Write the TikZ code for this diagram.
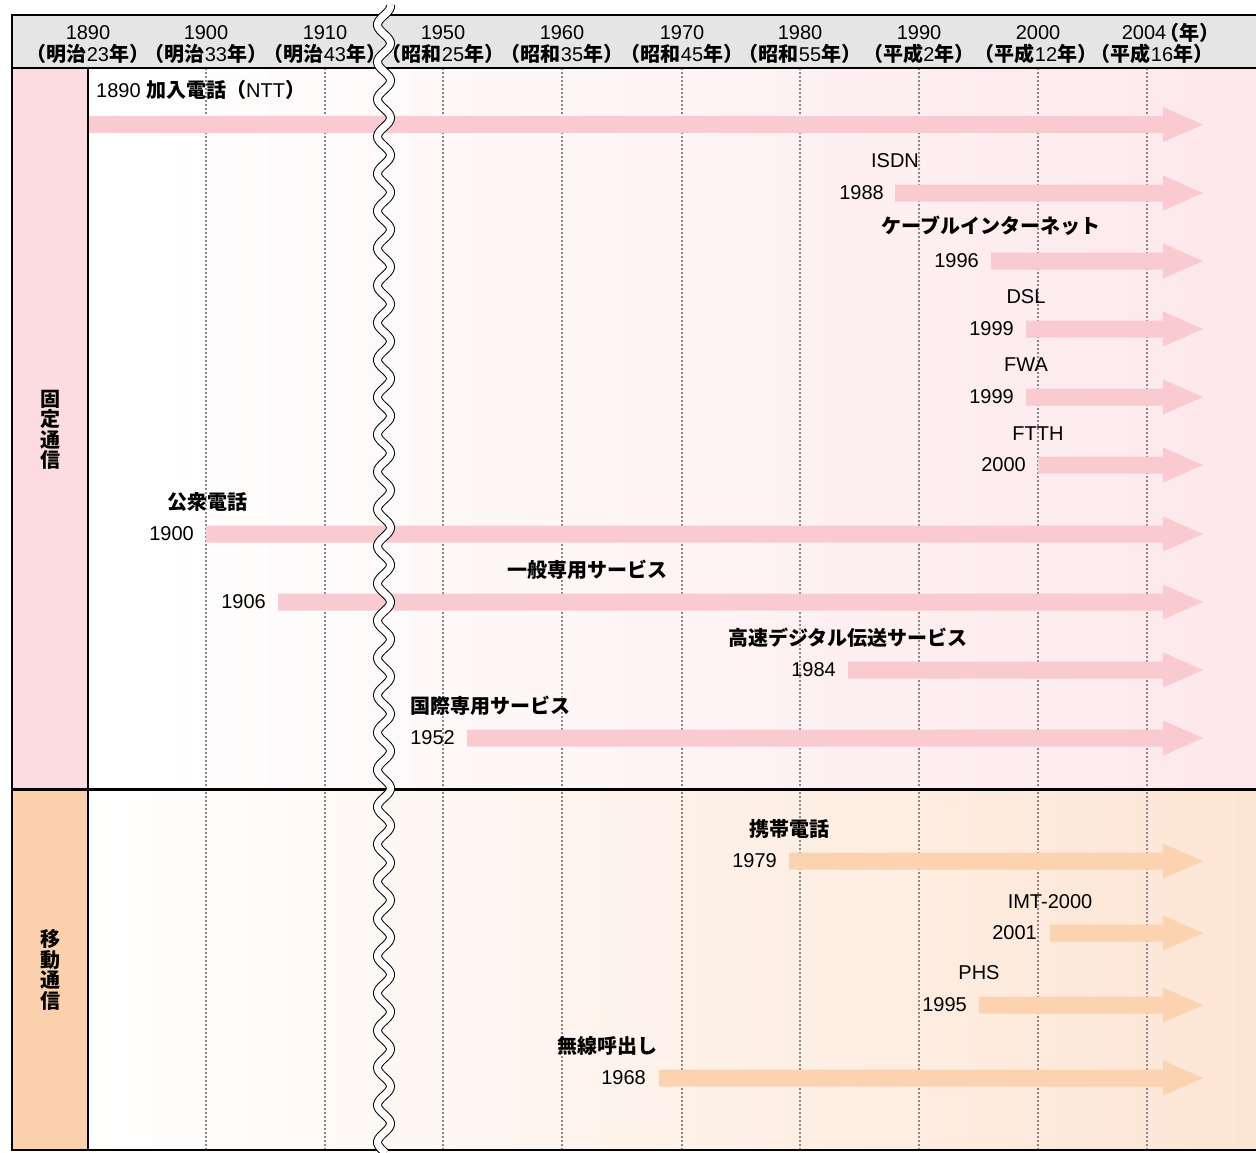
\documentclass[tikz,border=0pt]{standalone}
\usepackage{fontspec}
\setmainfont{Liberation Sans}
\newfontfamily\jpf{Noto Sans CJK JP}
\newcommand\JB[1]{{\jpf\bfseries #1}}
\definecolor{hdrgray}{RGB}{229,229,229}
\definecolor{fixcol}{RGB}{252,220,225}
\definecolor{mobcol}{RGB}{251,209,173}
\definecolor{fixbg}{RGB}{253,232,235}
\definecolor{mobbg}{RGB}{253,229,212}
\definecolor{fixarr}{RGB}{249,202,208}
\definecolor{mobarr}{RGB}{252,211,176}
\definecolor{gridgray}{RGB}{135,135,135}
\newcommand\tlarrow[3]{%
  \fill[#1] (#2,#3-8.5) -- (1163,#3-8.5) -- (1163,#3-17.5) -- (1203,#3)
    -- (1163,#3+17.5) -- (1163,#3+8.5) -- (#2,#3+8.5) -- cycle;}
\begin{document}
\begin{tikzpicture}[x=1pt,y=-1pt,
  lat/.style={font=\fontsize{20}{24}\selectfont, inner sep=0pt},
  jlab/.style={font=\jpf\bfseries\fontsize{20}{24}\selectfont, inner sep=0pt},
  yrlab/.style={lat, anchor=east},
  hdr/.style={font=\fontsize{20}{24}\selectfont, inner sep=0pt},
  vlab/.style={font=\jpf\bfseries\fontsize{20}{20.5}\selectfont, align=center, inner sep=0pt},
  gridline/.style={draw=gridgray, line width=1.8pt, dash pattern=on 1.8pt off 2.2pt},
  fixarrow/.style={fill=fixarr},
  mobarrow/.style={fill=mobarr},
  frameline/.style={draw=black},
]
\useasboundingbox (0,0) rectangle (1256,1153);
% backgrounds
\fill[hdrgray] (12,15) rectangle (1256,68);
\fill[fixcol] (12,68) rectangle (88,789);
\fill[mobcol] (12,789) rectangle (88,1150);
\shade[left color=white, right color=fixbg] (88,68) rectangle (1256,789);
\shade[left color=white, right color=mobbg] (88,789) rectangle (1256,1150);
% grid
\foreach \gx in {206,325,443,562,682,800,919,1038,1147}
  \draw[gridline] (\gx,68) -- (\gx,1150);
% arrows fixed
\tlarrow{fixarrow}{88}{124.5}
\tlarrow{fixarrow}{895}{193}
\tlarrow{fixarrow}{991}{261}
\tlarrow{fixarrow}{1026}{329}
\tlarrow{fixarrow}{1026}{397}
\tlarrow{fixarrow}{1038}{465}
\tlarrow{fixarrow}{206}{534}
\tlarrow{fixarrow}{278}{602}
\tlarrow{fixarrow}{848}{670}
\tlarrow{fixarrow}{467}{738}
% arrows mobile
\tlarrow{mobarrow}{789}{861}
\tlarrow{mobarrow}{1050}{933}
\tlarrow{mobarrow}{979}{1005}
\tlarrow{mobarrow}{659}{1078}
% frame
\draw[frameline, line width=1.5pt] (12,68) -- (1256,68);
\draw[frameline, line width=1.4pt] (88,68) -- (88,1150);
\draw[frameline, line width=3pt] (12,789) -- (1256,789);
\draw[frameline, line width=2.5pt] (1256,15) -- (12,15) -- (12,1150) -- (1256,1150);
% header
\foreach \gx/\yr/\era/\num [count=\i] in {88/1890/明治/23, 206/1900/明治/33, 325/1910/明治/43,
   443/1950/昭和/25, 562/1960/昭和/35, 682/1970/昭和/45, 800/1980/昭和/55,
   919/1990/平成/2, 1036/2000/平成/12, 1152/2004/平成/16} {
  \node[hdr] (era\i) at (\gx,54) {\JB{（\era}\num\JB{年）}};
}
\foreach \gx/\yr [count=\i] in {88/1890, 206/1900, 325/1910, 443/1950, 562/1960,
   682/1970, 800/1980, 919/1990, 1038/2000, 1144/2004}
  \node[hdr] (yr\i) at (\gx,33) {\yr};
\node[hdr, anchor=west, xshift=-7pt] (nen) at (yr10.east) {\JB{（年）}};
% side labels
\node[vlab] (fixlab) at (50,430) {固\\定\\通\\信};
\node[vlab] (moblab) at (50,970) {移\\動\\通\\信};
% fixed labels
\node[lat, anchor=west] (l1890) at (96,90) {1890 \JB{加入電話（}NTT\JB{）}};
\node[lat] (lisdn) at (895,161) {ISDN};
\node[yrlab] (y1988) at (884,193) {1988};
\node[jlab] (lcable) at (991,226) {ケーブルインターネット};
\node[yrlab] (y1996) at (979,261) {1996};
\node[lat] (ldsl) at (1026,297) {DSL};
\node[yrlab] (y1999a) at (1014,329) {1999};
\node[lat] (lfwa) at (1026,365) {FWA};
\node[yrlab] (y1999b) at (1014,397) {1999};
\node[lat] (lftth) at (1038,434) {FTTH};
\node[yrlab] (y2000) at (1026,465) {2000};
\node[jlab] (lpub) at (207,502) {公衆電話};
\node[yrlab] (y1900) at (194,534) {1900};
\node[jlab] (lgen) at (587,570) {一般専用サービス};
\node[yrlab] (y1906) at (266,602) {1906};
\node[jlab] (lhs) at (848,638) {高速デジタル伝送サービス};
\node[yrlab] (y1984) at (836,670) {1984};
\node[jlab] (lint) at (490,706) {国際専用サービス};
\node[yrlab] (y1952) at (455,738) {1952};
% mobile labels
\node[jlab] (lcell) at (789,829) {携帯電話};
\node[yrlab] (y1979) at (777,861) {1979};
\node[lat] (limt) at (1050,902) {IMT-2000};
\node[yrlab] (y2001) at (1037,933) {2001};
\node[lat] (lphs) at (979,973) {PHS};
\node[yrlab] (y1995) at (967,1005) {1995};
\node[jlab] (lpager) at (607,1046) {無線呼出し};
\node[yrlab] (y1968) at (646,1078) {1968};
% wavy break
\draw[line width=9pt, black] plot[smooth, samples=500, domain=5:1153, variable=\t] ({384-6.5*cos(9.66443*(\t-24.75))}, \t);
\draw[line width=7pt, white] plot[smooth, samples=500, domain=5:1153, variable=\t] ({384-6.5*cos(9.66443*(\t-24.75))}, \t);
\end{tikzpicture}
\end{document}
